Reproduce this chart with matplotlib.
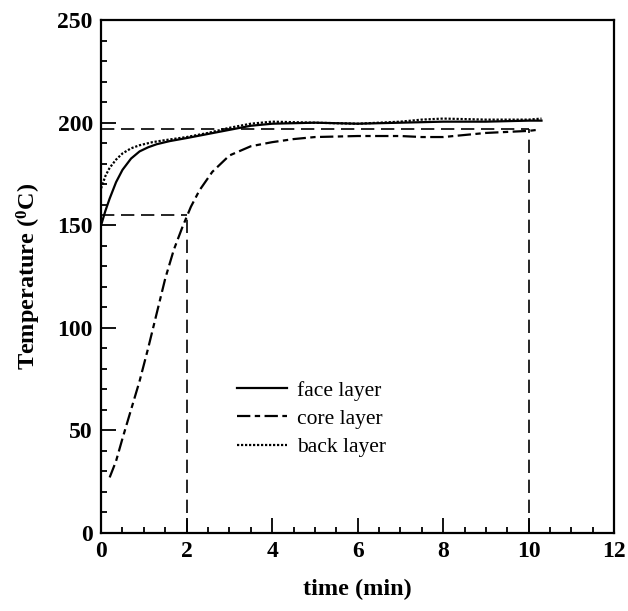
import numpy as np
import matplotlib
matplotlib.use("Agg")
import matplotlib.pyplot as plt
from matplotlib.ticker import MultipleLocator

plt.rcParams['font.family'] = ['Liberation Serif', 'DejaVu Serif']
plt.rcParams['mathtext.fontset'] = 'custom'
plt.rcParams['mathtext.rm'] = 'Liberation Serif:bold'
plt.rcParams['mathtext.bf'] = 'Liberation Serif:bold'

# face layer (solid)
face_t = [0, 0.1, 0.2, 0.35, 0.5, 0.7, 0.9, 1.1, 1.3, 1.6, 2.0, 2.5, 3.0, 3.5,
          4.0, 5.0, 6.0, 7.0, 8.0, 9.0, 10.0, 10.3]
face_T = [150, 157, 163, 171, 177, 182.5, 186, 188, 189.5, 191, 192.5, 194.5, 196.5, 198.5,
          199.5, 200, 199.5, 200, 200.5, 200.5, 201, 201]

# core layer (dash-dot)
core_t = [0.2, 0.35, 0.5, 0.7, 0.9, 1.1, 1.3, 1.5, 1.7, 1.9, 2.1, 2.3, 2.6, 3.0, 3.5,
          4.0, 4.5, 5.0, 6.0, 7.0, 7.5, 8.0, 8.5, 9.0, 9.5, 10.0, 10.2]
core_T = [27, 35, 46, 60, 74, 90, 107, 124, 138, 149, 159, 167, 176, 184, 188.5,
          190.5, 192, 193, 193.5, 193.5, 193, 193, 194, 195, 195.5, 196, 196.5]

# back layer (dotted)
back_t = [0, 0.1, 0.2, 0.35, 0.5, 0.7, 0.9, 1.2, 1.5, 2.0, 2.5, 3.0, 3.5, 4.0,
          5.0, 6.0, 7.0, 7.5, 8.0, 9.0, 10.0, 10.3]
back_T = [168, 174, 178, 182, 185, 187.5, 189, 190.5, 191.5, 193, 195, 197.5, 199.5, 200.5,
          200, 199.5, 200.5, 201.5, 202, 201.5, 201.5, 202]

# reference marks
t_mark1, T_mark1 = 2, 155
t_mark2, T_mark2 = 10, 197

fig = plt.figure(figsize=(6.28, 6.11), dpi=100)
ax = fig.add_axes([0.161, 0.128, 0.817, 0.839])

ax.plot(face_t, face_T, color='black', lw=1.6, label='face layer')
ax.plot(core_t, core_T, color='black', lw=1.6, linestyle=(0, (6, 2, 2.4, 2)), label='core layer')
ax.plot(back_t, back_T, color='black', lw=1.6, linestyle=(0, (1, 0.8)), label='back layer')

ref = dict(color='black', lw=1.2, linestyle=(0, (8, 4)))
ax.plot([0, t_mark1], [T_mark1, T_mark1], **ref)
ax.plot([t_mark1, t_mark1], [0, T_mark1], **ref)
ax.plot([0, t_mark2], [T_mark2, T_mark2], **ref)
ax.plot([t_mark2, t_mark2], [0, T_mark2], **ref)

ax.set_xlim(0, 12)
ax.set_ylim(0, 250)
ax.xaxis.set_major_locator(MultipleLocator(2))
ax.xaxis.set_minor_locator(MultipleLocator(0.5))
ax.yaxis.set_major_locator(MultipleLocator(50))
ax.yaxis.set_minor_locator(MultipleLocator(10))
ax.tick_params(which='both', direction='in', width=1.3)
ax.tick_params(which='major', length=11, labelsize=17, pad=6)
ax.tick_params(which='minor', length=4)
for lbl in ax.get_xticklabels() + ax.get_yticklabels():
    lbl.set_fontweight('bold')
for s in ax.spines.values():
    s.set_linewidth(1.6)

ax.set_xlabel('time (min)', fontsize=17.5, fontweight='bold', labelpad=12)
ax.set_ylabel(r'Temperature ($\mathbf{^{0}}$C)', fontsize=17.5, fontweight='bold', labelpad=10)

ax.legend(loc='upper left', bbox_to_anchor=(0.265, 0.297), frameon=False, fontsize=15.5,
          handlelength=2.3, handletextpad=0.5, labelspacing=0.38, borderpad=0, borderaxespad=0)

fig.savefig('out.png', dpi=100)
